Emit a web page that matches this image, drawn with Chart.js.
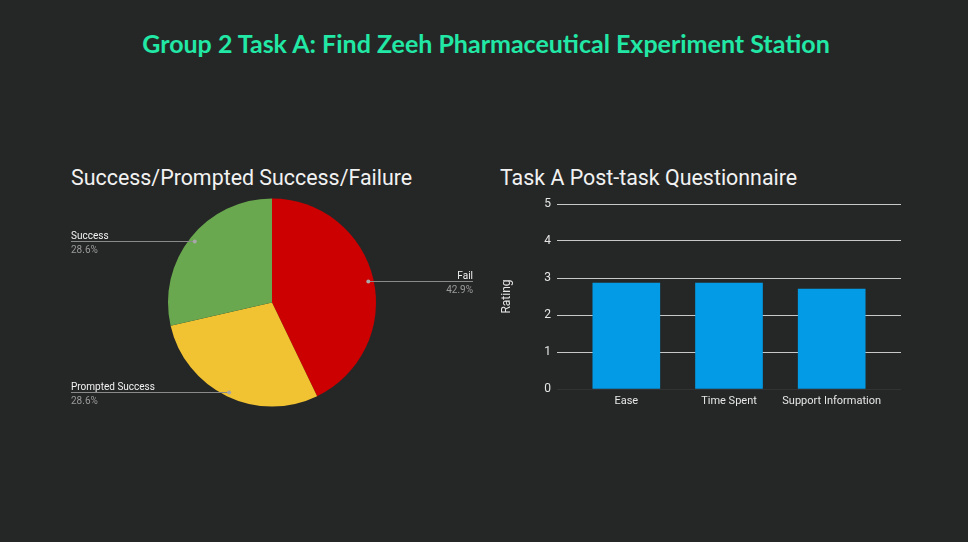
<!DOCTYPE html>
<html>
<head>
<meta charset="utf-8">
<script src="https://cdn.jsdelivr.net/npm/chart.js@4"></script>
<style>
  html, body { margin: 0; padding: 0; }
  body { width: 968px; height: 542px; background: #252726; position: relative; overflow: hidden; font-family: Roboto, sans-serif; }
  .main-title { position: absolute; left: 0; width: 972px; top: 28px; text-align: center;
    font-family: Lato, sans-serif; font-weight: 700; font-size: 25px; color: #22e8a6; }
  .chart-title { position: absolute; top: 165px; font-size: 21.4px; color: #f2f2f2; }
  .box { position: absolute; }
</style>
</head>
<body>
<div class="main-title">Group 2 Task A: Find Zeeh Pharmaceutical Experiment Station</div>
<div class="chart-title" style="left:71px">Success/Prompted Success/Failure</div>
<div class="chart-title" style="left:500px">Task A Post-task Questionnaire</div>
<div class="box" style="left:60px;top:190px;width:430px;height:230px"><canvas id="pieChart"></canvas></div>
<div class="box" style="left:490px;top:190px;width:430px;height:230px"><canvas id="barChart"></canvas></div>
<script>
// Pie data
const PIE_LABELS = ['Fail', 'Prompted Success', 'Success'];
const PIE_VALUES = [3, 2, 2];
const PIE_COLORS = ['#cc0000', '#f1c232', '#6aa84f'];

// Bar data
const BAR_LABELS = ['Ease', 'Time Spent', 'Support Information'];
const BAR_VALUES = [2.86, 2.86, 2.7];
const Y_TICKS    = [0, 1, 2, 3, 4, 5];

// ── Pie leader labels ──
const pieLabels = {
  id: 'pieLabels',
  afterDraw(chart) {
    const ctx   = chart.ctx;
    const meta  = chart.getDatasetMeta(0);
    const total = PIE_VALUES.reduce((a, b) => a + b, 0);
    const leftX = 11, rightX = 413;
    ctx.save();
    meta.data.forEach((arc, i) => {
      const mid = (arc.startAngle + arc.endAngle) / 2;
      const r   = arc.outerRadius * 0.95;
      const px  = arc.x + Math.cos(mid) * r;
      const py  = Math.round(arc.y + Math.sin(mid) * r) + 0.5;
      const onRight = Math.cos(mid) > 0;
      const endX = onRight ? rightX : leftX;

      ctx.strokeStyle = '#8a8a8a';
      ctx.lineWidth = 1;
      ctx.beginPath();
      ctx.moveTo(px, py);
      ctx.lineTo(endX, py);
      ctx.stroke();
      ctx.fillStyle = '#a8a8a8';
      ctx.beginPath();
      ctx.arc(px, py, 2, 0, Math.PI * 2);
      ctx.fill();

      const pct = (PIE_VALUES[i] / total * 100).toFixed(1) + '%';
      ctx.textAlign = onRight ? 'right' : 'left';
      ctx.font = '10px Roboto';
      ctx.textBaseline = 'alphabetic';
      ctx.fillStyle = '#f2f2f2';
      ctx.fillText(PIE_LABELS[i], endX, py - 3);
      ctx.fillStyle = '#9a9a9a';
      ctx.fillText(pct, endX, py + 11);
    });
    ctx.restore();
  }
};

new Chart(document.getElementById('pieChart'), {
  type: 'pie',
  data: {
    labels: PIE_LABELS,
    datasets: [{ data: PIE_VALUES, backgroundColor: PIE_COLORS, borderWidth: 0 }]
  },
  options: {
    responsive: true,
    maintainAspectRatio: false,
    animation: false,
    layout: { padding: { left: 108, right: 114, top: 8.5, bottom: 13.5 } },
    plugins: { legend: { display: false }, tooltip: { enabled: false } }
  },
  plugins: [pieLabels]
});

// ── Bar chart ──
new Chart(document.getElementById('barChart'), {
  type: 'bar',
  data: {
    datasets: [{
      data: BAR_VALUES.map((v, i) => ({ x: i, y: v })),
      backgroundColor: '#039be5',
      barThickness: 67
    }]
  },
  options: {
    responsive: true,
    maintainAspectRatio: false,
    animation: false,
    layout: { padding: { left: 0, right: 19, top: 14, bottom: 0 } },
    plugins: { legend: { display: false }, tooltip: { enabled: false } },
    scales: {
      x: {
        type: 'linear',
        offset: false,
        bounds: 'data',
        min: -0.675,
        max: 2.675,
        afterBuildTicks: s => { s.ticks = BAR_LABELS.map((c, i) => ({ value: i })); },
        afterFit: s => { s.height = 31; },
        grid: { display: false, drawTicks: false, offset: false },
        border: { display: false },
        ticks: {
          padding: 6,
          autoSkip: false,
          maxRotation: 0,
          callback: v => BAR_LABELS[v],
          color: '#e6e6e6',
          font: { family: 'Roboto', size: 11 }
        }
      },
      y: {
        min: 0,
        max: 5,
        afterBuildTicks: s => { s.ticks = Y_TICKS.map(v => ({ value: v })); },
        afterFit: s => { s.width = 67; },
        grid: {
          drawTicks: false,
          color: c => c.tick && c.tick.value === 0 ? '#333333' : '#c8c8c8'
        },
        border: { display: false },
        title: {
          display: true,
          text: 'Rating',
          color: '#e6e6e6',
          font: { family: 'Roboto', size: 12 },
          padding: { top: 10, bottom: 0 }
        },
        ticks: {
          padding: 6,
          color: '#e6e6e6',
          font: { family: 'Roboto', size: 12 }
        }
      }
    }
  }
});
</script>
</body>
</html>
